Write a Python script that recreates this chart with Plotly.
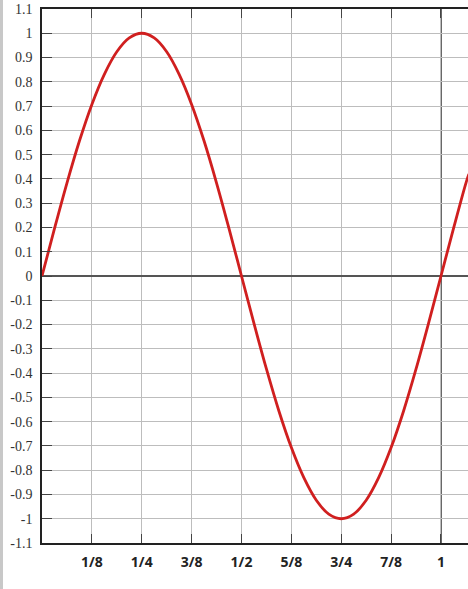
"""Recreation of a one-period sine curve plotted on a fraction grid."""

from __future__ import annotations

import plotly.graph_objects as go

# curve samples (x in periods, y amplitude)
x_pts = [0, 1/32, 1/16, 3/32, 1/8, 5/32, 3/16, 7/32, 1/4,
         9/32, 5/16, 11/32, 3/8, 13/32, 7/16, 15/32, 1/2,
         17/32, 9/16, 19/32, 5/8, 21/32, 11/16, 23/32, 3/4,
         25/32, 13/16, 27/32, 7/8, 29/32, 15/16, 31/32, 1,
         33/32, 17/16, 1.07]
y_pts = [0, 0.195, 0.383, 0.556, 0.707, 0.831, 0.924, 0.981, 1.0,
         0.981, 0.924, 0.831, 0.707, 0.556, 0.383, 0.195, 0,
         -0.195, -0.383, -0.556, -0.707, -0.831, -0.924, -0.981, -1.0,
         -0.981, -0.924, -0.831, -0.707, -0.556, -0.383, -0.195, 0,
         0.195, 0.383, 0.42]

x_tick_vals = [1/8, 1/4, 3/8, 1/2, 5/8, 3/4, 7/8, 1]
x_tick_text = ["1/8", "1/4", "3/8", "1/2", "5/8", "3/4", "7/8", "1"]

y_tick_vals = [1.1, 1, 0.9, 0.8, 0.7, 0.6, 0.5, 0.4, 0.3, 0.2, 0.1, 0,
               -0.1, -0.2, -0.3, -0.4, -0.5, -0.6, -0.7, -0.8, -0.9, -1, -1.1]
y_tick_text = ["1.1", "1", "0.9", "0.8", "0.7", "0.6", "0.5", "0.4", "0.3",
               "0.2", "0.1", "0", "-0.1", "-0.2", "-0.3", "-0.4", "-0.5",
               "-0.6", "-0.7", "-0.8", "-0.9", "-1", "-1.1"]

fig = go.Figure(
    go.Scatter(
        x=x_pts,
        y=y_pts,
        mode="lines",
        line=dict(color="#d01f1f", width=2.8, shape="spline", smoothing=1.0),
        hoverinfo="skip",
    )
)

fig.update_layout(
    width=468,
    height=589,
    margin=dict(l=42, r=0, t=9, b=46),
    paper_bgcolor="white",
    plot_bgcolor="white",
    showlegend=False,
)

fig.update_xaxes(
    range=[0, 1.0677],
    tickvals=[0] + x_tick_vals,
    ticktext=[""] + x_tick_text,
    ticks="inside",
    ticklen=9,
    tickcolor="#444",
    tickwidth=1,
    tickfont=dict(family="Open Sans", size=14, color="#222", weight="bold"),
    ticklabelstandoff=5,
    showgrid=True,
    gridcolor="#bdbdbd",
    gridwidth=1,
    zeroline=False,
    showline=True,
    linecolor="#222",
    linewidth=1.5,
    mirror="ticks",
)
fig.update_yaxes(
    range=[-1.1, 1.1],
    tickvals=y_tick_vals,
    ticktext=y_tick_text,
    ticks="inside",
    ticklen=10,
    tickcolor="#444",
    tickwidth=1,
    tickfont=dict(family="Liberation Serif", size=14, color="#333"),
    ticklabelstandoff=5,
    showgrid=True,
    gridcolor="#bdbdbd",
    gridwidth=1,
    zeroline=True,
    zerolinecolor="#555",
    zerolinewidth=1.6,
    showline=True,
    linecolor="#222",
    linewidth=1.5,
)

# darker vertical line at x = 1
fig.add_vline(x=1, line_color="#555", line_width=1.8, layer="below")
# light grey border strip on the left edge of the image
fig.add_shape(type="rect", xref="paper", yref="paper",
              x0=-42 / 426, x1=-39 / 426, y0=-46 / 534, y1=1 + 9 / 534,
              fillcolor="#c8c8c8", line_width=0)

# drop the default page margin so the figure sits flush in the window
fig.write_html(
    "out.html",
    config={"displayModeBar": False},
    post_script="document.body.style.margin='0';document.body.style.overflow='hidden';",
)
